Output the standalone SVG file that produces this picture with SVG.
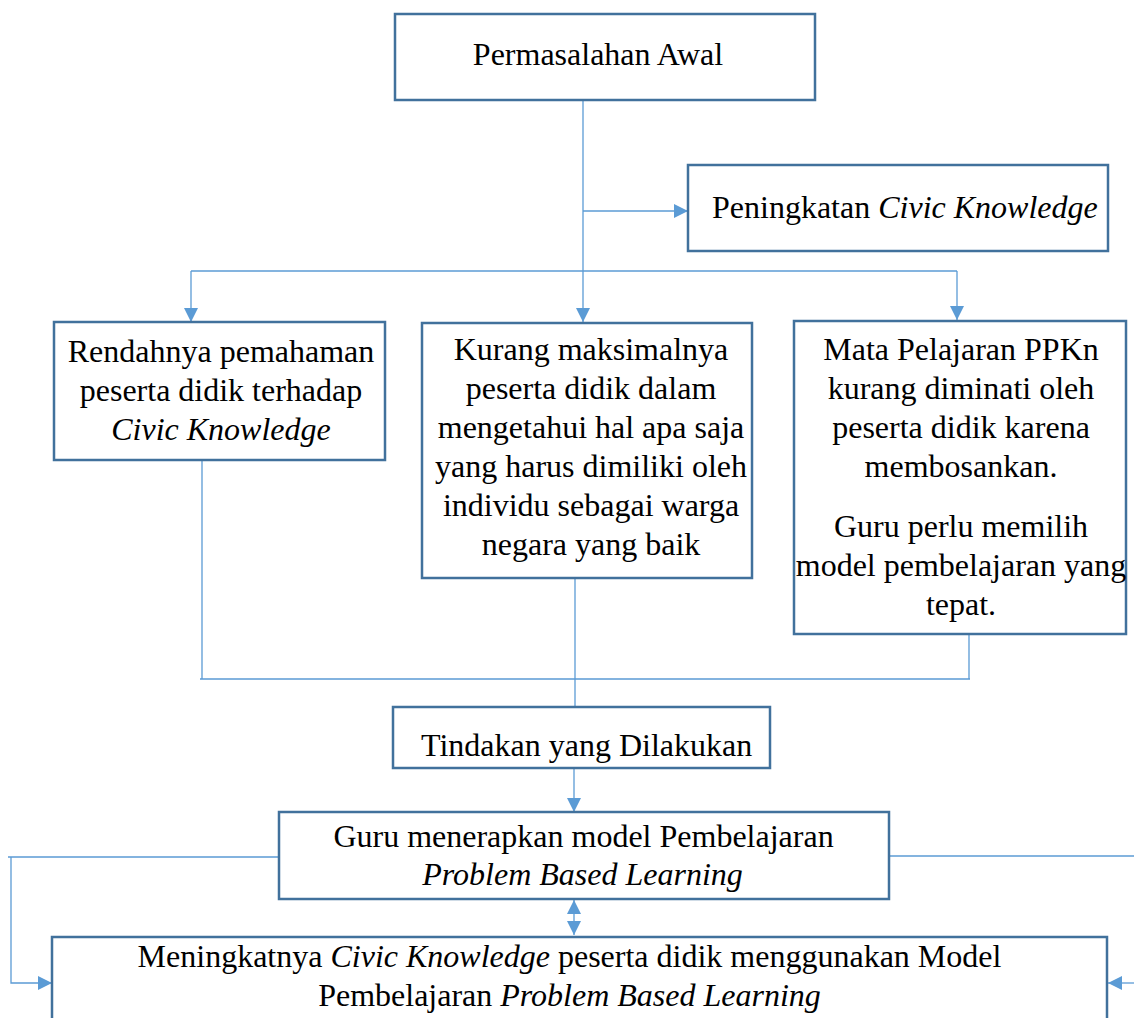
<svg xmlns="http://www.w3.org/2000/svg" width="1134" height="1018" viewBox="0 0 1134 1018">
<style>
.box{fill:#ffffff;stroke:#41719C;stroke-width:2.5}
.con{fill:none;stroke:#5B9BD5;stroke-width:1.3}
.t{font-family:"Liberation Serif","Times New Roman",serif;font-size:32px;fill:#000000}
.c{text-anchor:middle}
.i{font-style:italic}
</style>
<defs>
<marker id="ah" viewBox="0 0 14 14" refX="14" refY="7" markerWidth="14" markerHeight="14" markerUnits="userSpaceOnUse" orient="auto-start-reverse">
<path d="M0,0 L14,7 L0,14 Z" fill="#5B9BD5"/>
</marker>
</defs>
<rect width="1134" height="1018" fill="#ffffff"/>
<g id="connectors">
<path class="con" d="M583,100 V322" marker-end="url(#ah)"/>
<path class="con" d="M583,211 H688" marker-end="url(#ah)"/>
<path class="con" d="M191,271 H957"/>
<path class="con" d="M191,271 V322" marker-end="url(#ah)"/>
<path class="con" d="M957,271 V320" marker-end="url(#ah)"/>
<path class="con" d="M202,460 V679 M969,634 V679 M200,679 H970"/>
<path class="con" d="M575,578 V707"/>
<path class="con" d="M574,768 V812" marker-end="url(#ah)"/>
<path class="con" d="M574,900 V935" marker-start="url(#ah)" marker-end="url(#ah)"/>
<path class="con" d="M279,857 H8 M11,857 V983 H52" marker-end="url(#ah)"/>
<path class="con" d="M889,856 H1134"/>
<path class="con" d="M1134,983 H1108" marker-end="url(#ah)"/>
</g>
<g id="node-permasalahan">
<rect class="box" x="395" y="14" width="420" height="86"/>
<text class="t c" x="598" y="65">Permasalahan Awal</text>
</g>
<g id="node-peningkatan">
<rect class="box" x="688" y="165" width="420" height="86"/>
<text class="t" x="712" y="218">Peningkatan <tspan class="i">Civic Knowledge</tspan></text>
</g>
<g id="node-rendahnya">
<rect class="box" x="54" y="322" width="331" height="138"/>
<text class="t c" x="221" y="362">Rendahnya pemahaman</text>
<text class="t c" x="221" y="401">peserta didik terhadap</text>
<text class="t c i" x="221" y="440">Civic Knowledge</text>
</g>
<g id="node-kurang">
<rect class="box" x="422" y="323" width="330" height="255"/>
<text class="t c" x="591" y="360">Kurang maksimalnya</text>
<text class="t c" x="591" y="399">peserta didik dalam</text>
<text class="t c" x="591" y="438">mengetahui hal apa saja</text>
<text class="t c" x="591" y="477">yang harus dimiliki oleh</text>
<text class="t c" x="591" y="516">individu sebagai warga</text>
<text class="t c" x="591" y="555">negara yang baik</text>
</g>
<g id="node-mapel">
<rect class="box" x="794" y="321" width="332" height="313"/>
<text class="t c" x="961" y="360">Mata Pelajaran PPKn</text>
<text class="t c" x="961" y="399">kurang diminati oleh</text>
<text class="t c" x="961" y="438">peserta didik karena</text>
<text class="t c" x="961" y="477">membosankan.</text>
<text class="t c" x="961" y="537">Guru perlu memilih</text>
<text class="t c" x="961" y="576">model pembelajaran yang</text>
<text class="t c" x="961" y="615">tepat.</text>
</g>
<g id="node-tindakan">
<rect class="box" x="393" y="707" width="377" height="61"/>
<text class="t" x="421" y="756">Tindakan yang Dilakukan</text>
</g>
<g id="node-guru">
<rect class="box" x="279" y="812" width="610" height="87"/>
<text class="t c" x="583.5" y="847">Guru menerapkan model Pembelajaran</text>
<text class="t c i" x="582.5" y="885">Problem Based Learning</text>
</g>
<g id="node-meningkatnya">
<rect class="box" x="52" y="937" width="1055" height="100"/>
<text class="t c" x="569.5" y="967">Meningkatnya <tspan class="i">Civic Knowledge</tspan> peserta didik menggunakan Model</text>
<text class="t c" x="569.5" y="1006">Pembelajaran <tspan class="i">Problem Based Learning</tspan></text>
</g>
</svg>
